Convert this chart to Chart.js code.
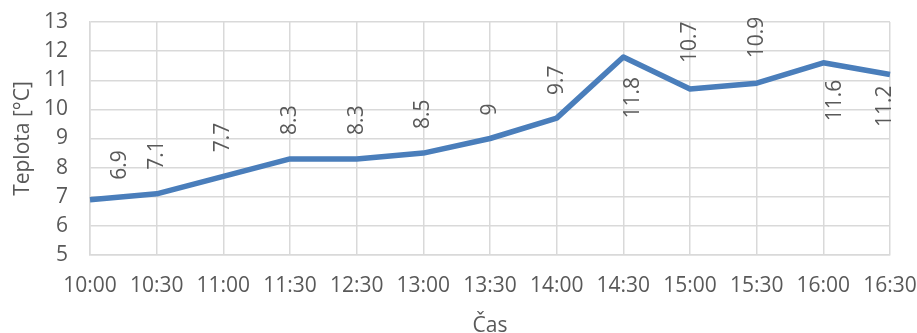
<!DOCTYPE html>
<html>
<head>
<meta charset="utf-8">
<script src="https://cdn.jsdelivr.net/npm/chart.js@4/dist/chart.umd.min.js"></script>
<style>
  html, body { margin: 0; padding: 0; background: #fff; }
  #wrap { width: 917px; height: 333px; }
</style>
</head>
<body>
<div id="wrap"><canvas id="c" width="917" height="333"></canvas></div>
<script>
// Measured temperatures over the afternoon
const times = ['10:00', '10:30', '11:00', '11:30', '12:30', '13:00', '13:30', '14:00', '14:30', '15:00', '15:30', '16:00', '16:30'];
const temperatures = [6.9, 7.1, 7.7, 8.3, 8.3, 8.5, 9, 9.7, 11.8, 10.7, 10.9, 11.6, 11.2];
const yTicks = [5, 6, 7, 8, 9, 10, 11, 12, 13];

const textColor = '#595959';
const gridColor = '#d9d9d9';
const fontFamily = "'Open Sans', 'Liberation Sans', sans-serif";
const fontSize = 21;

// Placement of each rotated value label: side of the line, gap from the point, sideways nudge
const labelPlacement = [
  { side: 'above', gap: 20, dx: 30 },
  { side: 'above', gap: 24, dx: 0 },
  { side: 'above', gap: 24, dx: 0 },
  { side: 'above', gap: 24, dx: 0 },
  { side: 'above', gap: 24, dx: 0 },
  { side: 'above', gap: 24, dx: 0 },
  { side: 'above', gap: 23, dx: 0 },
  { side: 'above', gap: 23, dx: 0 },
  { side: 'below', gap: 20, dx: 10 },
  { side: 'above', gap: 26, dx: 0 },
  { side: 'above', gap: 25, dx: 0 },
  { side: 'below', gap: 17, dx: 12 },
  { side: 'below', gap: 11, dx: -5 }
];

// Draws the values as vertical text next to each point
const verticalValueLabels = {
  id: 'verticalValueLabels',
  afterDatasetsDraw(chart) {
    const ctx = chart.ctx;
    const meta = chart.getDatasetMeta(0);
    const values = chart.data.datasets[0].data;
    ctx.save();
    ctx.fillStyle = textColor;
    ctx.font = fontSize + 'px ' + fontFamily;
    ctx.textBaseline = 'middle';
    meta.data.forEach((pt, i) => {
      const p = labelPlacement[i];
      const x = pt.x + p.dx;
      ctx.save();
      if (p.side === 'above') {
        ctx.translate(x, pt.y - p.gap);
        ctx.rotate(-Math.PI / 2);
        ctx.textAlign = 'left';
      } else {
        ctx.translate(x, pt.y + p.gap);
        ctx.rotate(-Math.PI / 2);
        ctx.textAlign = 'right';
      }
      ctx.fillText(String(values[i]), 0, 0);
      ctx.restore();
    });
    ctx.restore();
  }
};

new Chart(document.getElementById('c'), {
  type: 'line',
  data: {
    labels: times,
    datasets: [{
      data: temperatures,
      borderColor: '#4a7ebb',
      borderWidth: 5.5,
      pointRadius: 0,
      pointHoverRadius: 0,
      tension: 0,
      fill: false,
      borderJoinStyle: 'round',
      borderCapStyle: 'butt'
    }]
  },
  options: {
    responsive: false,
    animation: false,
    events: [],
    layout: { padding: { top: 22, right: 27, left: 0, bottom: 0 } },
    plugins: {
      legend: { display: false },
      tooltip: { enabled: false }
    },
    scales: {
      x: {
        offset: false,
        grid: { color: gridColor, lineWidth: 1.5, drawTicks: false },
        border: { color: gridColor, width: 1.5 },
        ticks: {
          color: textColor,
          font: { family: fontFamily, size: fontSize },
          padding: 18,
          maxRotation: 0,
          autoSkip: false
        },
        title: {
          display: true,
          text: 'Čas',
          color: textColor,
          font: { family: fontFamily, size: fontSize, lineHeight: 1 },
          padding: { top: 0, bottom: -4 }
        },
        afterFit(scale) {
          scale.height = 78;
          scale.paddingLeft = 0;
          scale.paddingRight = 0;
        }
      },
      y: {
        min: 5,
        max: 13,
        afterBuildTicks(scale) { scale.ticks = yTicks.map(v => ({ value: v })); },
        grid: { color: gridColor, lineWidth: 1.5, drawTicks: false },
        border: { color: gridColor, width: 1.5 },
        ticks: {
          color: textColor,
          font: { family: fontFamily, size: fontSize },
          padding: 22,
          autoSkip: false
        },
        title: {
          display: true,
          text: 'Teplota [°C]',
          color: textColor,
          font: { family: fontFamily, size: fontSize, lineHeight: 1.2 },
          padding: { top: 10, bottom: 0 }
        },
        afterFit(scale) {
          scale.width = 90;
          scale.paddingTop = 0;
          scale.paddingBottom = 0;
        }
      }
    }
  },
  plugins: [verticalValueLabels]
});
</script>
</body>
</html>
